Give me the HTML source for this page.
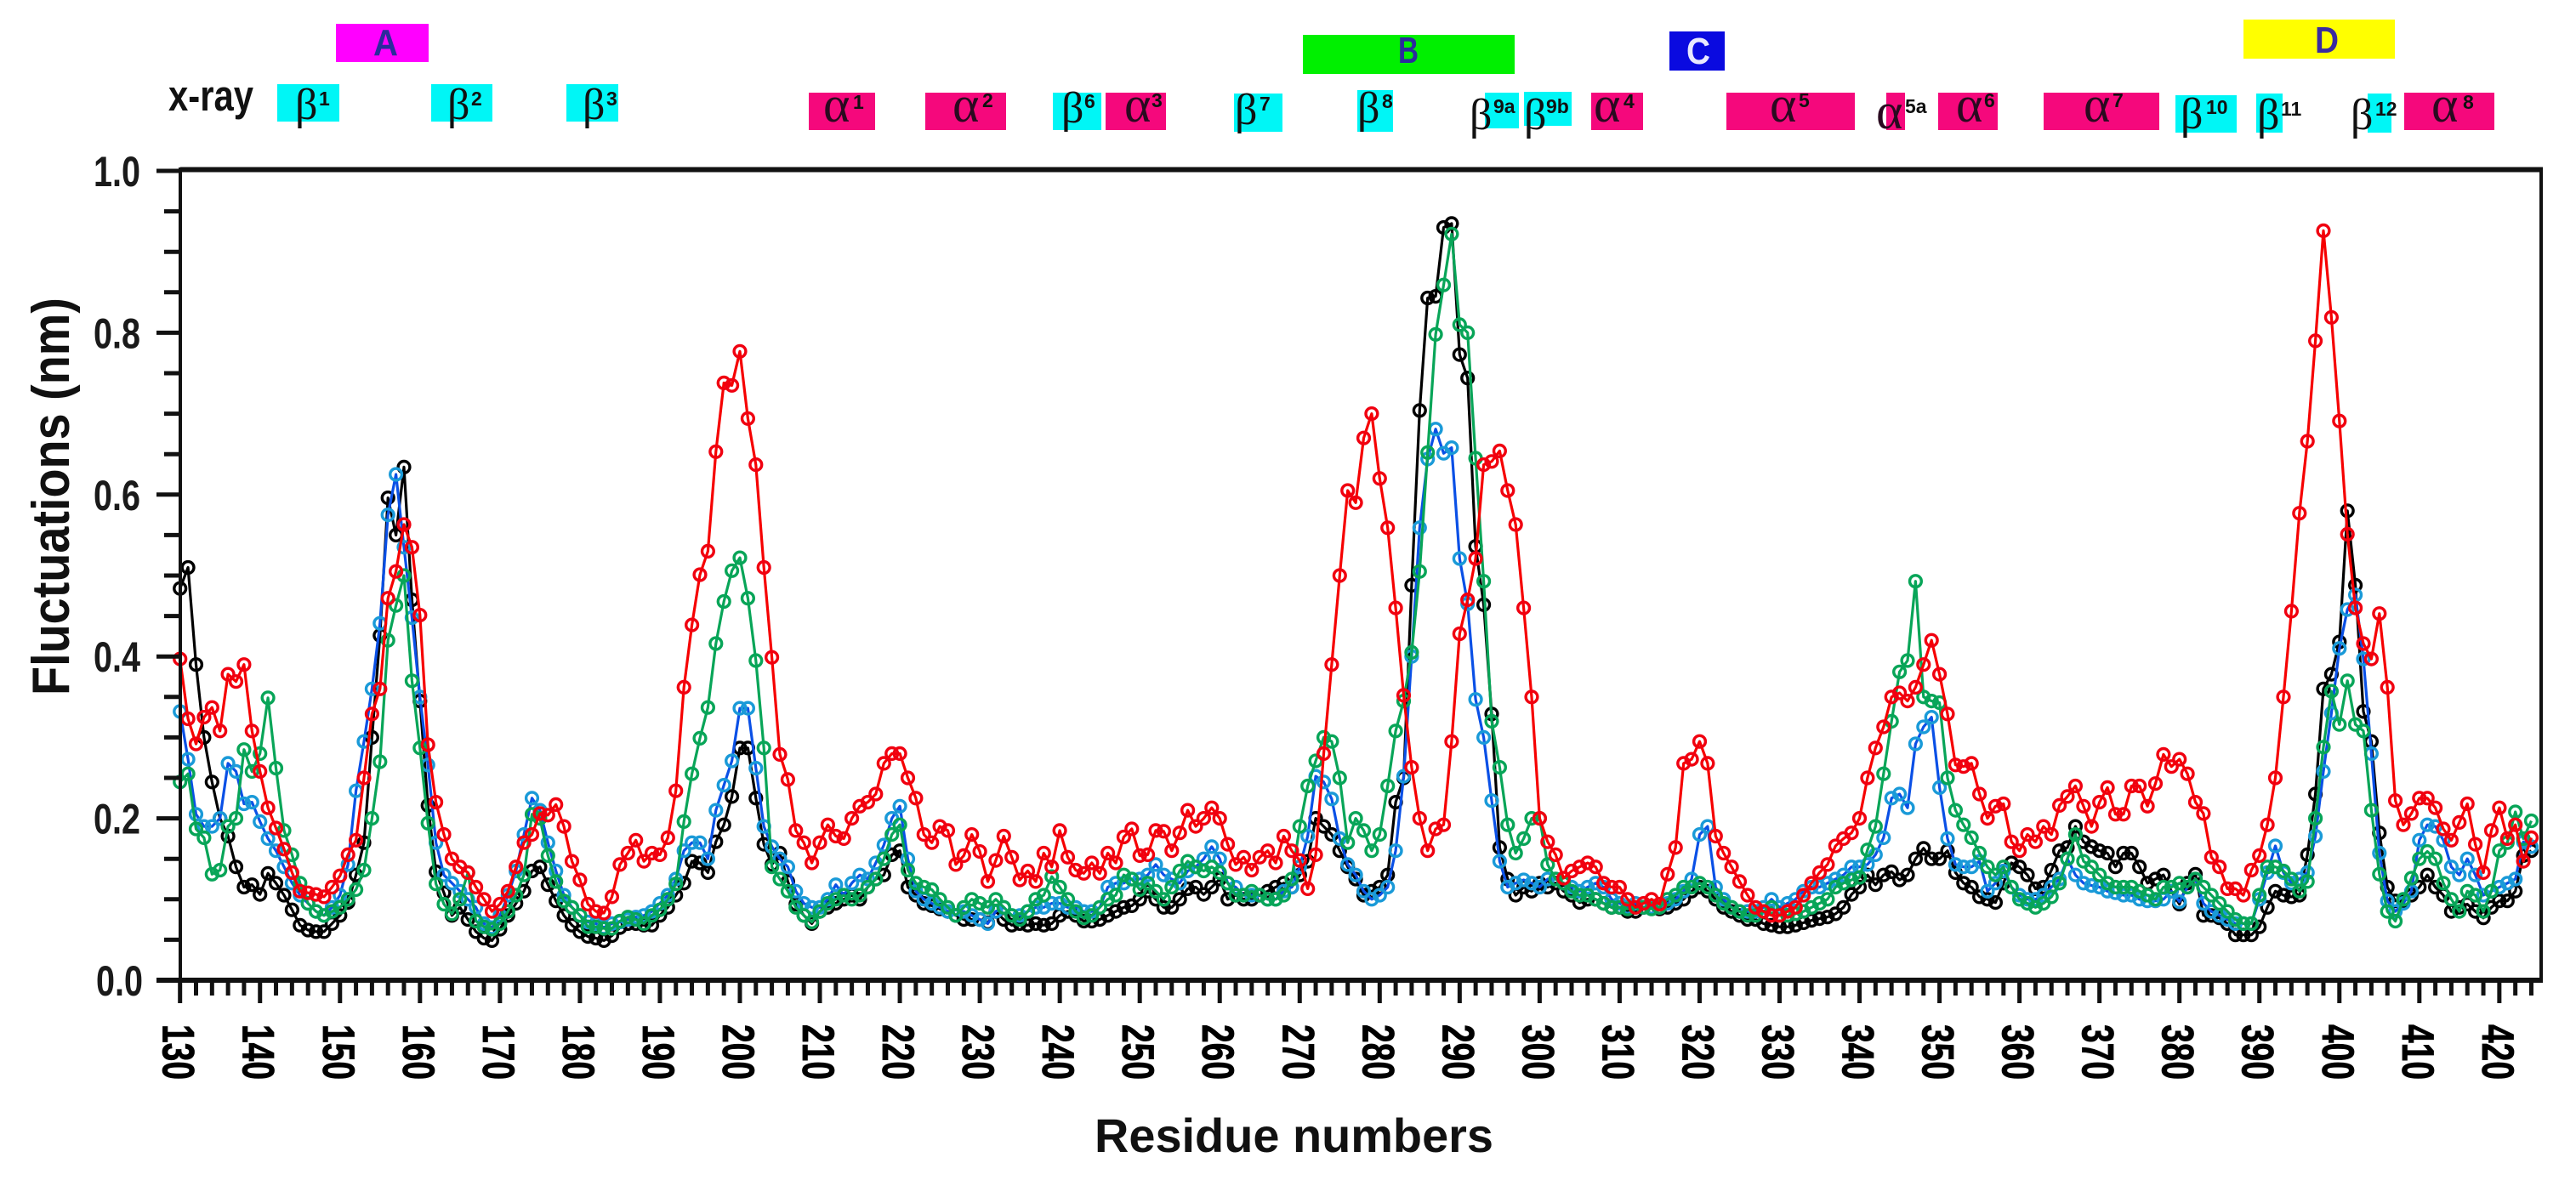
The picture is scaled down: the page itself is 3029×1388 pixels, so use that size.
<!DOCTYPE html>
<html lang="en">
<head>
<meta charset="utf-8">
<title>Residue fluctuations chart</title>
<style>
  html, body { margin: 0; padding: 0; background: #fff; }
  svg { display: block; }
  text { font-family: "Liberation Sans", sans-serif; }
  .gr { font-family: "Liberation Serif", serif; font-size: 52px; fill: #111; }
  .al { font-family: "Liberation Serif", serif; font-size: 60px; fill: #2a0a20; }
  .sp { font-weight: bold; font-size: 23px; fill: #111; }
  .dom { font-weight: bold; font-size: 44px; fill: #2b2b9c; }
</style>
</head>
<body>
<svg id="chart" xmlns="http://www.w3.org/2000/svg" width="3029" height="1388" viewBox="0 0 3029 1388">
  <rect x="0" y="0" width="3029" height="1388" fill="#fff"/>

  <g>
    <rect x="395" y="28" width="109" height="45" fill="#ff00ff"/>
    <text class="dom" x="439" y="65" textLength="29" lengthAdjust="spacingAndGlyphs">A</text>
    <rect x="1532" y="41" width="249" height="46" fill="#00f000"/>
    <text class="dom" x="1644" y="74" textLength="24" lengthAdjust="spacingAndGlyphs">B</text>
    <rect x="1963" y="37" width="65" height="46" fill="#0a0ae0"/>
    <text class="dom" x="1983" y="75" textLength="28" lengthAdjust="spacingAndGlyphs" style="fill:#e8e8ff">C</text>
    <rect x="2638" y="23" width="178" height="46" fill="#ffff00"/>
    <text class="dom" x="2722" y="62" textLength="28" lengthAdjust="spacingAndGlyphs" style="fill:#3a2aa0">D</text>
  </g>

  <text x="198" y="130" font-weight="bold" font-size="51" fill="#111" textLength="100" lengthAdjust="spacingAndGlyphs">x-ray</text>

  <g>
    <rect x="326" y="99" width="73" height="44" fill="#00f6f6"/>
    <text class="gr" x="347" y="140">β</text>
    <text class="sp" x="375" y="124">1</text>
    <rect x="507" y="99" width="72" height="44" fill="#00f6f6"/>
    <text class="gr" x="526" y="140">β</text>
    <text class="sp" x="554" y="124">2</text>
    <rect x="666" y="99" width="61" height="44" fill="#00f6f6"/>
    <text class="gr" x="685" y="140">β</text>
    <text class="sp" x="713" y="124">3</text>
    <rect x="1238" y="109" width="57" height="44" fill="#00f6f6"/>
    <text class="gr" x="1248" y="144">β</text>
    <text class="sp" x="1275" y="127">6</text>
    <rect x="1451" y="110" width="57" height="45" fill="#00f6f6"/>
    <text class="gr" x="1452" y="146">β</text>
    <text class="sp" x="1481" y="130">7</text>
    <rect x="1596" y="106" width="42" height="49" fill="#00f6f6"/>
    <text class="gr" x="1596" y="144">β</text>
    <text class="sp" x="1625" y="127">8</text>
    <rect x="1746" y="109" width="40" height="42" fill="#00f6f6"/>
    <text class="gr" x="1728" y="152">β</text>
    <text class="sp" x="1756" y="133">9a</text>
    <rect x="1792" y="108" width="56" height="40" fill="#00f6f6"/>
    <text class="gr" x="1792" y="152">β</text>
    <text class="sp" x="1818" y="133">9b</text>
    <rect x="2558" y="112" width="72" height="44" fill="#00f6f6"/>
    <text class="gr" x="2564" y="151">β</text>
    <text class="sp" x="2594" y="134">10</text>
    <rect x="2653" y="110" width="31" height="46" fill="#00f6f6"/>
    <text class="gr" x="2654" y="152">β</text>
    <text class="sp" x="2682" y="136">11</text>
    <rect x="2784" y="110" width="28" height="46" fill="#00f6f6"/>
    <text class="gr" x="2764" y="152">β</text>
    <text class="sp" x="2793" y="136">12</text>
  </g>

  <g>
    <rect x="951" y="109" width="78" height="44" fill="#f5087c"/>
    <text class="al" x="968" y="143">α</text>
    <text class="sp" x="1003" y="128">1</text>
    <rect x="1088" y="109" width="95" height="44" fill="#f5087c"/>
    <text class="al" x="1120" y="143">α</text>
    <text class="sp" x="1155" y="126">2</text>
    <rect x="1300" y="109" width="71" height="44" fill="#f5087c"/>
    <text class="al" x="1322" y="143">α</text>
    <text class="sp" x="1354" y="126">3</text>
    <rect x="1871" y="109" width="61" height="44" fill="#f5087c"/>
    <text class="al" x="1874" y="143">α</text>
    <text class="sp" x="1909" y="127">4</text>
    <rect x="2030" y="109" width="151" height="44" fill="#f5087c"/>
    <text class="al" x="2081" y="143">α</text>
    <text class="sp" x="2115" y="126">5</text>
    <rect x="2218" y="109" width="22" height="44" fill="#f5087c"/>
    <text class="al" x="2206" y="151">α</text>
    <text class="sp" x="2240" y="133">5a</text>
    <rect x="2279" y="109" width="70" height="44" fill="#f5087c"/>
    <text class="al" x="2300" y="143">α</text>
    <text class="sp" x="2333" y="126">6</text>
    <rect x="2403" y="109" width="136" height="44" fill="#f5087c"/>
    <text class="al" x="2450" y="143">α</text>
    <text class="sp" x="2484" y="126">7</text>
    <rect x="2827" y="109" width="106" height="44" fill="#f5087c"/>
    <text class="al" x="2859" y="143">α</text>
    <text class="sp" x="2896" y="128">8</text>
  </g>

  <g id="plot-series"></g>
  <g id="axes"></g>

  <text x="81" y="818" transform="rotate(-90 81 818)" font-weight="bold" font-size="62" fill="#111" textLength="468" lengthAdjust="spacingAndGlyphs">Fluctuations (nm)</text>
  <text x="1287" y="1355" font-weight="bold" font-size="56" fill="#111" textLength="469" lengthAdjust="spacingAndGlyphs">Residue numbers</text>
</svg>

<script>
const firstResidue = 130;
const xTickLabels = [130,140,150,160,170,180,190,200,210,220,230,240,250,260,270,280,290,300,310,320,330,340,350,360,370,380,390,400,410,420];
const yTickLabels = ["0.0","0.2","0.4","0.6","0.8","1.0"];
const yMinorTicks = [0.05,0.10,0.15,0.25,0.30,0.35,0.45,0.50,0.55,0.65,0.70,0.75,0.85,0.90,0.95];

const blackValues = [
.484,.51,.39,.30,.245,.20,.178,.14,.115,.118,
.106,.132,.12,.105,.087,.068,.062,.06,.06,.07,
.08,.096,.13,.17,.30,.426,.596,.55,.634,.47,
.345,.216,.134,.108,.08,.09,.075,.06,.052,.049,
.063,.08,.095,.11,.135,.14,.118,.098,.08,.068,
.06,.054,.052,.049,.055,.065,.07,.07,.068,.068,
.08,.09,.105,.12,.147,.145,.133,.171,.192,.227,
.287,.287,.225,.168,.143,.157,.122,.094,.08,.07,
.085,.09,.095,.10,.105,.10,.115,.125,.13,.155,
.16,.115,.105,.095,.092,.088,.085,.08,.075,.075,
.075,.071,.085,.075,.068,.07,.068,.07,.068,.07,
.08,.085,.08,.073,.073,.075,.08,.085,.09,.092,
.10,.11,.10,.09,.09,.10,.113,.115,.106,.115,
.125,.10,.105,.10,.10,.105,.11,.115,.12,.115,
.13,.147,.20,.19,.18,.16,.14,.125,.105,.11,
.115,.13,.22,.25,.488,.704,.843,.845,.93,.935,
.773,.744,.536,.464,.329,.164,.125,.105,.115,.11,
.12,.115,.12,.11,.105,.096,.10,.10,.095,.09,
.09,.085,.085,.09,.09,.088,.09,.095,.10,.11,
.115,.11,.10,.09,.085,.08,.075,.075,.07,.068,
.066,.066,.068,.071,.074,.076,.078,.082,.09,.106,
.115,.13,.118,.13,.134,.124,.13,.15,.163,.15,
.15,.16,.133,.12,.115,.103,.10,.096,.12,.145,
.14,.13,.113,.115,.136,.16,.164,.19,.171,.165,
.16,.157,.14,.157,.157,.14,.12,.125,.13,.11,
.094,.12,.131,.08,.08,.077,.07,.056,.056,.056,
.066,.09,.11,.105,.103,.105,.155,.23,.36,.378,
.418,.58,.488,.332,.295,.182,.115,.098,.098,.105,
.115,.13,.115,.105,.085,.09,.094,.085,.077,.09,
.098,.098,.11,.154,.16];

const blueValues = [
.332,.273,.205,.19,.19,.20,.268,.258,.218,.22,
.196,.175,.16,.14,.12,.105,.095,.085,.08,.09,
.105,.143,.234,.295,.36,.441,.575,.625,.535,.448,
.35,.266,.17,.13,.12,.11,.10,.09,.07,.065,
.08,.105,.135,.18,.225,.21,.17,.135,.105,.09,
.08,.072,.07,.065,.07,.072,.075,.078,.08,.085,
.095,.105,.125,.16,.17,.17,.15,.21,.241,.271,
.336,.336,.262,.19,.165,.15,.14,.11,.095,.09,
.09,.10,.118,.105,.12,.13,.125,.145,.167,.2,
.215,.15,.11,.10,.095,.09,.085,.08,.085,.08,
.075,.07,.085,.09,.08,.08,.085,.09,.09,.095,
.095,.09,.09,.085,.085,.09,.115,.12,.12,.125,
.125,.13,.143,.13,.125,.12,.135,.14,.15,.165,
.15,.12,.115,.105,.105,.105,.10,.10,.11,.115,
.14,.178,.252,.245,.224,.175,.143,.13,.11,.10,
.105,.115,.16,.252,.40,.559,.644,.681,.651,.658,
.521,.465,.347,.30,.222,.147,.115,.12,.124,.12,
.115,.125,.125,.12,.115,.11,.115,.12,.115,.10,
.095,.09,.095,.09,.09,.09,.095,.10,.11,.125,
.18,.19,.115,.10,.09,.085,.085,.085,.09,.10,
.09,.095,.10,.11,.115,.115,.12,.125,.13,.14,
.14,.143,.155,.176,.225,.23,.213,.292,.313,.325,
.238,.175,.143,.14,.14,.147,.11,.12,.135,.115,
.105,.10,.10,.105,.115,.125,.15,.13,.12,.117,
.115,.11,.108,.105,.105,.10,.098,.098,.10,.11,
.097,.115,.125,.095,.085,.08,.075,.07,.07,.07,
.10,.133,.166,.133,.12,.125,.133,.178,.258,.33,
.41,.458,.476,.397,.28,.157,.098,.085,.095,.11,
.173,.192,.19,.173,.14,.13,.15,.13,.105,.11,
.115,.12,.125,.171,.165];

const greenValues = [
.245,.255,.187,.176,.131,.136,.19,.20,.285,.258,
.28,.349,.262,.185,.155,.12,.095,.085,.08,.085,
.09,.10,.112,.136,.2,.27,.42,.463,.50,.37,
.287,.194,.119,.094,.082,.10,.133,.073,.066,.063,
.07,.085,.105,.13,.205,.20,.154,.122,.098,.09,
.08,.066,.066,.064,.064,.073,.078,.075,.07,.08,
.087,.10,.119,.196,.255,.299,.337,.416,.468,.506,
.522,.472,.395,.287,.14,.125,.11,.09,.08,.072,
.085,.095,.10,.105,.10,.105,.115,.125,.15,.18,
.192,.136,.12,.115,.112,.10,.09,.08,.09,.10,
.095,.09,.10,.09,.08,.075,.085,.10,.105,.128,
.115,.10,.085,.077,.08,.09,.10,.105,.13,.125,
.112,.12,.11,.10,.115,.135,.147,.14,.135,.14,
.133,.12,.105,.105,.11,.105,.10,.10,.105,.125,
.19,.24,.271,.30,.295,.25,.17,.2,.185,.16,
.18,.24,.308,.345,.405,.505,.652,.798,.859,.922,
.81,.80,.645,.493,.32,.263,.192,.157,.175,.2,
.2,.143,.125,.12,.11,.105,.105,.10,.095,.09,
.09,.088,.09,.09,.088,.09,.10,.105,.115,.115,
.12,.115,.105,.095,.09,.085,.08,.08,.085,.09,
.08,.08,.082,.085,.09,.095,.10,.115,.12,.124,
.127,.161,.19,.255,.32,.381,.395,.493,.35,.345,
.343,.25,.21,.192,.176,.157,.14,.13,.14,.115,
.10,.095,.09,.095,.103,.12,.15,.18,.147,.14,
.13,.12,.115,.115,.115,.11,.105,.10,.115,.115,
.12,.115,.125,.115,.105,.095,.085,.075,.07,.07,
.105,.14,.14,.135,.125,.11,.122,.2,.288,.357,
.316,.37,.316,.308,.21,.131,.085,.073,.1,.126,
.15,.159,.15,.12,.10,.085,.11,.105,.085,.11,
.16,.17,.208,.175,.197];

const redValues = [
.397,.323,.292,.325,.337,.308,.378,.369,.39,.308,
.258,.213,.188,.162,.133,.11,.108,.106,.103,.115,
.129,.155,.173,.25,.329,.36,.472,.505,.563,.535,
.451,.291,.22,.18,.15,.14,.133,.115,.10,.085,
.094,.11,.14,.17,.18,.206,.204,.217,.19,.147,
.124,.094,.085,.083,.103,.143,.157,.173,.147,.157,
.155,.176,.234,.362,.439,.501,.53,.653,.738,.735,
.777,.694,.637,.51,.399,.279,.248,.185,.17,.145,
.17,.192,.178,.175,.20,.215,.22,.23,.268,.28,
.28,.25,.225,.18,.17,.19,.185,.143,.154,.18,
.159,.122,.148,.178,.152,.124,.135,.122,.157,.14,
.185,.152,.136,.132,.145,.132,.157,.145,.177,.187,
.154,.155,.185,.184,.16,.182,.21,.19,.2,.213,
.2,.168,.143,.152,.136,.152,.16,.145,.178,.16,
.148,.113,.155,.28,.39,.50,.605,.59,.67,.70,
.62,.559,.46,.352,.263,.2,.16,.187,.192,.295,
.428,.47,.521,.637,.641,.654,.605,.563,.46,.35,
.2,.171,.155,.126,.135,.14,.145,.14,.12,.115,
.115,.10,.09,.095,.10,.094,.131,.164,.268,.273,
.295,.268,.178,.157,.14,.122,.105,.09,.085,.08,
.08,.085,.09,.105,.12,.133,.143,.166,.175,.182,
.2,.25,.287,.313,.35,.355,.345,.362,.39,.42,
.378,.329,.266,.264,.268,.23,.2,.215,.218,.171,
.16,.18,.171,.19,.18,.216,.227,.24,.215,.19,
.22,.238,.205,.205,.24,.24,.215,.243,.279,.264,
.273,.255,.22,.206,.152,.14,.113,.113,.105,.136,
.154,.192,.25,.35,.456,.577,.666,.79,.926,.819,
.691,.551,.46,.416,.397,.453,.362,.222,.192,.206,
.225,.225,.213,.187,.173,.195,.218,.168,.133,.185,
.213,.175,.192,.147,.176];

const SVGNS = "http://www.w3.org/2000/svg";
function xScale(r) { return 211.7 + 9.404 * (r - 130); }
function yScale(v) { return 1153 - 952 * v; }
function make(tag, parent, attrs) {
  const el = document.createElementNS(SVGNS, tag);
  for (const k in attrs) el.setAttribute(k, attrs[k]);
  parent.appendChild(el);
  return el;
}

const plot = document.getElementById("plot-series");
function drawSeries(values, seriesName, lineColor, markerColor) {
  const group = make("g", plot, {});
  
  
  const points = values.map(function (v, i) {
    return xScale(firstResidue + i).toFixed(1) + "," + yScale(v).toFixed(1);
  }).join(" ");
  const line = make("polyline", group, { points: points, fill: "none", stroke: lineColor, "stroke-width": 3.2, "stroke-linejoin": "round" });
  
  
  values.forEach(function (v, i) {
    const dot = make("circle", group, { cx: xScale(firstResidue + i).toFixed(1), cy: yScale(v).toFixed(1), r: 6.9, fill: "none", stroke: markerColor, "stroke-width": 3.4 });
    
    
  });
}
drawSeries(blackValues, "black", "#000000", "#000000");
drawSeries(blueValues, "blue", "#0a50e6", "#1a9ad8");
drawSeries(greenValues, "green", "#08a558", "#08a558");
drawSeries(redValues, "red", "#f60000", "#f00010");

const axes = document.getElementById("axes");
function tickLine(x1, y1, x2, y2, w, name) {
  const t = make("line", axes, { x1: x1, y1: y1, x2: x2, y2: y2, stroke: "#111", "stroke-width": w });
  
  
}
tickLine(2988, 197, 2988, 1156, 4, "right-axis-line");
tickLine(212, 199.5, 2990, 199.5, 6, "top-axis-line");
tickLine(212, 197, 212, 1156, 4, "left-axis-line");
tickLine(184, 1153, 2990, 1153, 6, "bottom-axis-line");

yTickLabels.forEach(function (label) {
  const v = parseFloat(label);
  tickLine(184, yScale(v), 212, yScale(v), 5, "y-major-tick");
  const t = make("text", axes, { x: label === "0.0" ? 113 : 110, y: yScale(v) + 18, "font-size": 50, "font-weight": "bold", fill: "#1a1a1a", textLength: 55, lengthAdjust: "spacingAndGlyphs" });
  
  
  t.textContent = label;
});
yMinorTicks.forEach(function (v) {
  tickLine(193, yScale(v), 212, yScale(v), 5, "y-minor-tick");
});

xTickLabels.forEach(function (r) {
  tickLine(xScale(r), 1153, xScale(r), 1180, 5, "x-major-tick");
  tickLine(xScale(r + 2), 1153, xScale(r + 2), 1171, 5, "x-minor-tick");
  tickLine(xScale(r + 4), 1153, xScale(r + 4), 1171, 5, "x-minor-tick");
  if (r < 420) {
    tickLine(xScale(r + 6), 1153, xScale(r + 6), 1171, 5, "x-minor-tick");
    tickLine(xScale(r + 8), 1153, xScale(r + 8), 1171, 5, "x-minor-tick");
  }
  const bx = xScale(r) - 20;
  const t = make("text", axes, { x: bx, y: 1205, transform: "rotate(90 " + bx + " 1205)", "font-size": 53, "font-weight": "bold", fill: "#000", stroke: "#000", "stroke-width": 0.8, textLength: 65, lengthAdjust: "spacingAndGlyphs" });
  
  
  t.textContent = String(r);
});
</script>
</body>
</html>
